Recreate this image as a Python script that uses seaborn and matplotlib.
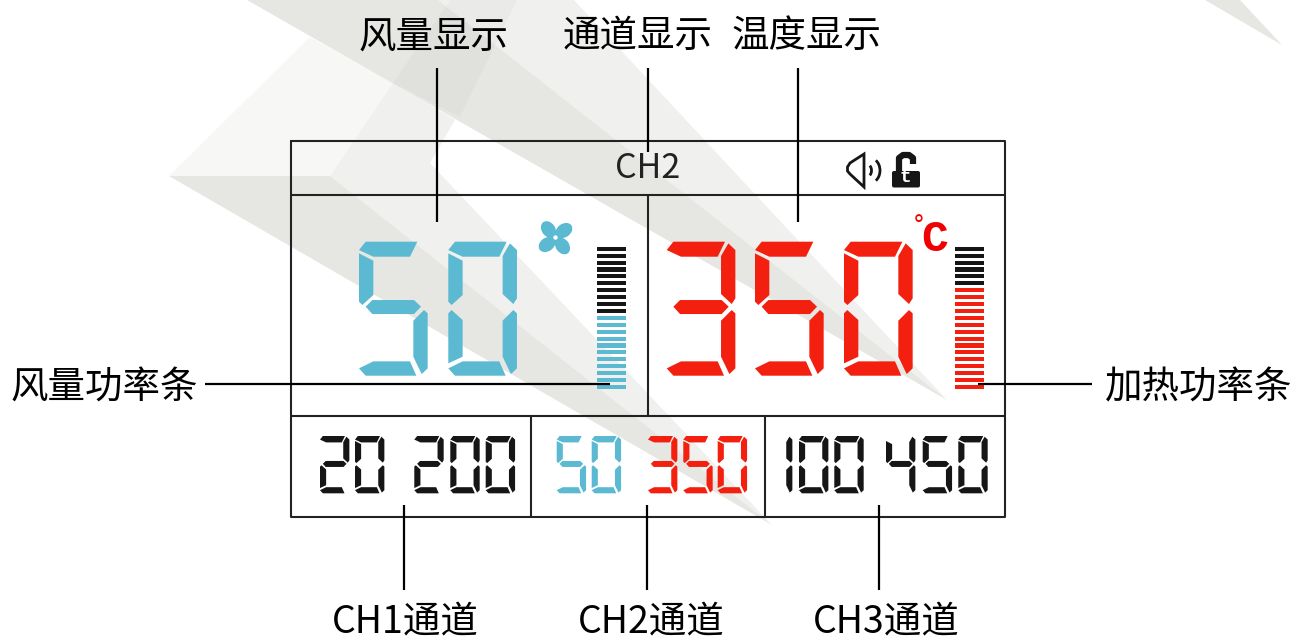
import matplotlib
matplotlib.use('Agg')
import matplotlib.pyplot as plt
import seaborn as sns
from matplotlib.patches import Arc, Circle, Ellipse, FancyBboxPatch, Polygon

sns.set_theme(style='white')
plt.rcParams['font.family'] = ['Noto Sans CJK SC', 'DejaVu Sans']

W, H = 1292, 642

# readouts on the display
air_value = '50'
temp_value = '350'
channel_name = 'CH2'
ch1_values = ['20', '200']
ch2_values = ['50', '350']
ch3_values = ['100', '450']

# power bars, 21 levels each, top level first
air_levels_off = 10
air_levels_on = 11
heat_levels_off = 6
heat_levels_on = 15

# callout labels
top_labels = ['风量显示', '通道显示', '温度显示']
side_labels = ['风量功率条', '加热功率条']
bottom_labels = ['CH1通道', 'CH2通道', 'CH3通道']

BLUE = '#5bb9d2'
RED = '#f31f0f'
BLACK = '#161616'
LINE = '#222222'

# one seven segment digit, in a 206 x 402 box
SEGS = {
    'a': [(20, 0), (175, 0), (153, 45), (43, 45), (0, 25)],
    'b': [(185, 5), (206, 25), (206, 170), (195, 187), (163, 157), (163, 43)],
    'c': [(195, 205), (206, 215), (206, 380), (188, 397), (163, 345), (163, 237)],
    'd': [(20, 402), (0, 380), (43, 359), (153, 359), (172, 402)],
    'e': [(10, 205), (43, 235), (43, 345), (0, 365), (0, 215)],
    'f': [(0, 35), (43, 57), (43, 160), (10, 190), (0, 180)],
    'g': [(40, 175), (165, 175), (186, 195), (165, 217), (40, 217), (20, 195)],
}
DIGITS = {'0': 'abcdef', '1': 'bc', '2': 'abged', '3': 'abgcd', '4': 'fgbc', '5': 'afgcd'}


def draw_digit(ax, ch, x0, y0, scale, color):
    for s in DIGITS[ch]:
        pts = [(x0 + px * scale, y0 + py * scale) for px, py in SEGS[s]]
        ax.add_patch(Polygon(pts, closed=True, fc=color, ec='none', zorder=4))


def draw_number(ax, text, xs, y0, scale, color):
    for ch, x in zip(text, xs):
        draw_digit(ax, ch, x, y0, scale, color)


def level_bar(x0, x1, y0, y1, n_off, n_on, color):
    # bars go through seaborn in their own little axes
    bar_ax = fig.add_axes([x0 / W, 1 - y1 / H, (x1 - x0) / W, (y1 - y0) / H], zorder=2)
    bar_ax.patch.set_alpha(0)
    rows = list(range(n_off + n_on))
    state = ['off'] * n_off + ['on'] * n_on
    sns.barplot(x=[1] * len(rows), y=rows, hue=state, palette={'off': BLACK, 'on': color},
                orient='h', dodge=False, width=0.6, saturation=1, linewidth=0, legend=False, ax=bar_ax)
    bar_ax.set_xlim(0, 1)
    bar_ax.set_ylim(len(rows) - 0.7, -0.3)
    bar_ax.axis('off')


fig = plt.figure(figsize=(W / 100, H / 100), dpi=100, facecolor='white')

# background shapes
bg = fig.add_axes([0, 0, 1, 1], zorder=1)
bg.set_xlim(0, W)
bg.set_ylim(H, 0)
bg.axis('off')
bg.fill([169, 310, 393, 330], [176, 37, 83, 176], color='#f7f7f5', lw=0)
bg.fill([330, 393, 455, 430, 772], [176, 83, 120, 163, 525], color='#f0f0ee', lw=0)
bg.fill([169, 330, 772], [176, 176, 525], color='#e6e6e3', lw=0)
bg.fill([438, 574, 947], [0, 0, 400], color='#f0f0ee', lw=0)
bg.fill([247, 438, 947], [0, 0, 400], color='#e6e6e3', lw=0)
bg.fill([450, 517, 460, 393], [0, 0, 117, 83], color='black', alpha=0.025, lw=0)
bg.fill([1205, 1240, 1282], [0, 0, 45], color='#e6e6e3', lw=0)

level_bar(597, 626, 246.7, 389, air_levels_off, air_levels_on, BLUE)
level_bar(955, 984, 246.7, 389, heat_levels_off, heat_levels_on, RED)

# everything else on a clear axes in front
ax = fig.add_axes([0, 0, 1, 1], zorder=3)
ax.patch.set_alpha(0)
ax.set_xlim(0, W)
ax.set_ylim(H, 0)
ax.axis('off')

# display frame
lw_frame = 1.5
ax.plot([291, 1005, 1005, 291, 291], [141, 141, 517, 517, 141], color=LINE, lw=lw_frame)
ax.plot([291, 1005], [194.5, 194.5], color=LINE, lw=lw_frame)
ax.plot([291, 1005], [416, 416], color=LINE, lw=lw_frame)
ax.plot([648, 648], [194.5, 416], color=LINE, lw=lw_frame)
ax.plot([531, 531], [416, 517], color=LINE, lw=lw_frame)
ax.plot([765, 765], [416, 517], color=LINE, lw=lw_frame)

# leader lines
lw_lead = 1.6
for x, y0, y1 in [(437, 68, 222), (648, 68, 152), (797.5, 68, 222),
                  (404, 505, 590), (647, 505, 590), (879, 505, 590)]:
    ax.plot([x, x], [y0, y1], color='black', lw=lw_lead, zorder=5, solid_capstyle='butt')
ax.plot([205, 610], [384, 384], color='black', lw=lw_lead, zorder=5, solid_capstyle='butt')
ax.plot([978, 1092], [384, 384], color='black', lw=lw_lead, zorder=5, solid_capstyle='butt')

# big digits
draw_number(ax, air_value, [359, 448.3], 241.7, 1 / 3, BLUE)
draw_number(ax, temp_value, [666.7, 755, 844], 241.7, 1 / 3, RED)

# small digits
small = 0.1426
draw_number(ax, ch1_values[0], [320, 355], 436, small, BLACK)
draw_number(ax, ch1_values[1], [414.3, 450.3, 485.7], 436, small, BLACK)
draw_number(ax, ch2_values[0], [556.7, 591.7], 436, small, BLUE)
draw_number(ax, ch2_values[1], [648, 683.3, 717.7], 436, small, RED)
draw_number(ax, ch3_values[0], [763, 799, 834.3], 436, small, BLACK)
draw_number(ax, ch3_values[1], [886, 922.7, 958.3], 436, small, BLACK)

# fan icon, four blades turned 90 degrees each
for cx, cy, angle in [(548.5, 229.5, 55), (564, 230.5, 145), (562.5, 246, 235), (547, 244.5, 325)]:
    ax.add_patch(Ellipse((cx, cy), 18, 13.5, angle=angle, fc=BLUE, ec='none', zorder=4))
ax.add_patch(Circle((555.5, 237.5), 5, fc=BLUE, ec='none', zorder=4))
ax.add_patch(Circle((555.5, 237.5), 2.2, fc='white', ec='none', zorder=5))

# speaker icon
ax.add_patch(Polygon([(847.5, 167), (850, 163), (864, 154), (864, 187), (850, 174), (847.5, 171)],
                     closed=True, fc='none', ec=BLACK, lw=2, zorder=4))
ax.add_patch(Arc((868, 170.5), 7, 11, theta1=-70, theta2=70, ec=BLACK, lw=2, zorder=4))
ax.add_patch(Arc((870, 170.5), 20, 25, theta1=-60, theta2=60, ec=BLACK, lw=2, zorder=4))

# lock icon
ax.add_patch(FancyBboxPatch((892, 171), 28, 16.5, boxstyle='round,pad=0,rounding_size=2',
                            fc=BLACK, ec='none', zorder=4))
ax.plot([899, 899, 903, 909, 913, 913], [173, 158, 155, 155, 158, 164], color=BLACK, lw=4.5,
        zorder=4, solid_capstyle='butt')
ax.text(905, 177, 't', color='white', fontsize=14, fontweight='bold', family='Liberation Mono',
        ha='center', va='center', zorder=5)

# degree C
ax.text(918.5, 226, '°', color='#f00000', fontsize=17, family='DejaVu Sans', ha='center', va='center', zorder=4)
ax.text(934.5, 239.5, 'C', color='#f00000', fontsize=32, family='Liberation Mono', fontweight='bold',
        ha='center', va='center', zorder=4)

# text
fs = 27
ax.text(648, 169, channel_name, color='#222222', fontsize=24.5, ha='center', va='center')
for label, x in zip(top_labels, [433.5, 638, 807]):
    ax.text(x, 37, label, color='black', fontsize=fs, ha='center', va='center')
for label, x in zip(side_labels, [104, 1199]):
    ax.text(x, 388, label, color='black', fontsize=fs, ha='center', va='center')
for label, x in zip(bottom_labels, [405, 651, 886]):
    ax.text(x, 642, label, color='black', fontsize=fs, ha='center', va='bottom')

fig.savefig('out.png', dpi=100)
